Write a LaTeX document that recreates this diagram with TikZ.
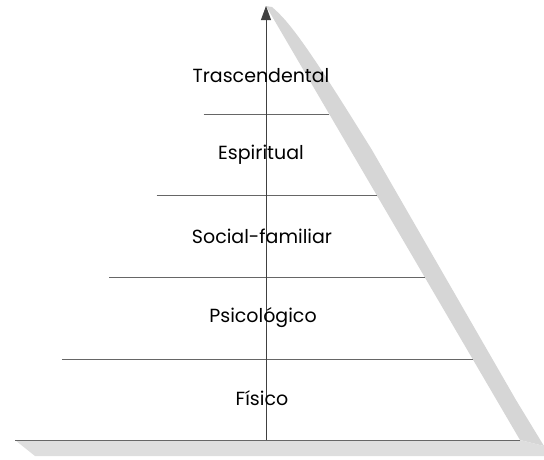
\documentclass[tikz,border=0pt]{standalone}
\usepackage{fontspec}
\setmainfont{Poppins}
\usetikzlibrary{calc,arrows.meta}
\begin{document}
\begin{tikzpicture}[x=1pt,y=-1pt,
  level/.style={draw=black!60,line width=0.6pt},
  face/.style={fill=black!16,draw=none},
  base/.style={fill=black!13,draw=none},
  axisline/.style={draw=black!75,line width=0.8pt,-{Triangle[length=14pt,width=10pt]}},
  tier/.style={font=\fontsize{19}{22}\selectfont,text=black,inner sep=0pt}]
\useasboundingbox (0,0) rectangle (544,459);
% pyramid corners
\coordinate (A) at (266,6);
\coordinate (L) at (15,440);
\coordinate (R) at (520,440);
\coordinate (Ao) at (272,7);
\coordinate (Ro) at (544,446);
% shaded side and base faces
\fill[face] (A) -- (Ao) .. controls (290,22) and (310,50) .. (372,150)
  -- (516,400) -- (Ro) -- (R) -- cycle;
\fill[base] (L) -- (R) -- (Ro) -- (544,456) -- (35,456) -- cycle;
% level lines between the two slanted edges
\foreach \y/\n in {114/1,195/2,277/3,359/4}{
  \pgfmathsetmacro{\t}{(\y-6)/434}
  \coordinate (l\n) at ($(A)!\t!(L)$);
  \coordinate (r\n) at ($(A)!\t!(R)$);
  \draw[level] (l\n) -- (r\n);
}
\draw[level] (L) -- (R);
% central axis
\coordinate (axbot) at (266,440);
\draw[axisline] (axbot) -- (A);
% tier labels
\node[tier] (t1) at (261,76) {Trascendental};
\node[tier] (t2) at (261,155) {Espiritual};
\node[tier] (t3) at (262,236) {Social-familiar};
\node[tier] (t4) at (263,318) {Psicológico};
\node[tier] (t5) at (262,398) {Físico};
\end{tikzpicture}
\end{document}
